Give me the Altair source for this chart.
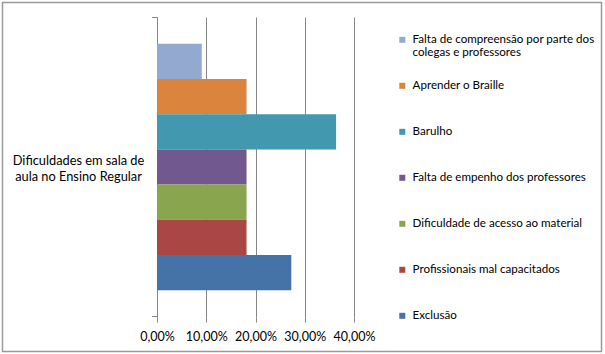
import altair as alt
import pandas as pd

# ---- data ----
category_lines = ["Dificuldades em sala de", "aula no Ensino Regular"]
series = [
    "Falta de compreensão por parte dos colegas e professores",
    "Aprender o Braille",
    "Barulho",
    "Falta de empenho dos professores",
    "Dificuldade de acesso ao material",
    "Profissionais mal capacitados",
    "Exclusão",
]
values = [0.0909, 0.1818, 0.3636, 0.1818, 0.1818, 0.1818, 0.2727]
colors = ["#93A9CF", "#DB843D", "#4198AF", "#71588F", "#89A54E", "#AA4643", "#4572A7"]
x_ticks = [0, 0.1, 0.2, 0.3, 0.4]
first_label_lines = ["Falta de compreensão por parte dos", "colegas e professores"]

df = pd.DataFrame({"serie": series, "valor": values})

FONT = "Lato"
GRID = "#868686"
TEXT = "#000000"

W, H = 197, 300
LEFT, TOP = 157, 17

label_expr = (
    f"datum.label == '{series[0]}' ? "
    f"['{first_label_lines[0]}', '{first_label_lines[1]}'] : datum.label"
)

bars = alt.Chart(df).mark_bar().encode(
    x=alt.X(
        "valor:Q",
        scale=alt.Scale(domain=[0, 0.4], nice=False),
        axis=alt.Axis(
            values=x_ticks,
            labelExpr="replace(format(datum.value, '.2%'), '.', ',')",
            domain=False,
            tickColor=GRID,
            tickSize=5,
            gridColor=GRID,
            gridOpacity=1,
            labelFont=FONT,
            labelFontSize=12.5,
            labelColor=TEXT,
            labelPadding=8,
            labelFlush=False,
            labelOverlap=False,
            title=None,
        ),
    ),
    y=alt.Y(
        "serie:N",
        sort=series,
        scale=alt.Scale(domain=series, paddingInner=0, paddingOuter=0.756, align=0.5),
        axis=alt.Axis(
            labels=False,
            ticks=False,
            grid=False,
            domainColor=GRID,
            title=category_lines,
            titleAngle=0,
            titleAlign="center",
            titleBaseline="middle",
            titleX=-79,
            titleY=143,
            titleFont=FONT,
            titleFontSize=12.8,
            titleFontWeight="normal",
            titleColor=TEXT,
            titleLineHeight=16,
        ),
    ),
    color=alt.Color(
        "serie:N",
        scale=alt.Scale(domain=series, range=colors),
        legend=alt.Legend(
            title=None,
            orient="none",
            legendX=239.5,
            legendY=17,
            symbolType="square",
            symbolSize=36,
            symbolStrokeWidth=0,
            symbolOpacity=1,
            labelOffset=4.5,
            labelFont=FONT,
            labelFontSize=11.6,
            labelColor=TEXT,
            labelLimit=400,
            rowPadding=20,
            gridAlign="all",
            padding=0,
            labelExpr=label_expr,
        ),
    ),
)

border = alt.Chart(pd.DataFrame({"b": [0]})).mark_rect(
    fillOpacity=0, stroke="#9a9a9a", strokeWidth=1.5
).encode(
    x=alt.value(-154.5), x2=alt.value(444.5),
    y=alt.value(-14.5), y2=alt.value(334.5),
)

# small category-boundary ticks on the vertical axis (top and bottom)
tick_top = alt.Chart(pd.DataFrame({"t": [0]})).mark_rule(color=GRID).encode(
    x=alt.value(-5), x2=alt.value(0), y=alt.value(0.5)
)
tick_bottom = alt.Chart(pd.DataFrame({"t": [0]})).mark_rule(color=GRID).encode(
    x=alt.value(-5), x2=alt.value(0), y=alt.value(H - 0.5)
)

chart = alt.layer(border, tick_top, tick_bottom, bars).properties(
    width=W,
    height=H,
    autosize=alt.AutoSizeParams(type="none"),
    padding={"left": LEFT, "top": TOP, "right": 605 - LEFT - W, "bottom": 354 - TOP - H},
    background="white",
).configure_view(stroke=None)

chart.save("out.html", embed_options={"renderer": "svg", "actions": False})
